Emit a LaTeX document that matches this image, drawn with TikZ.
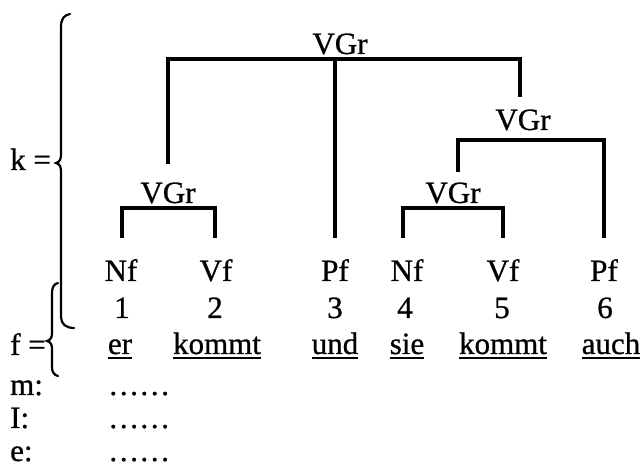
\documentclass[tikz,border=0pt]{standalone}
\usepackage{fontspec}
\setmainfont{Liberation Serif}[FakeBold=0.8]
\usetikzlibrary{calc}
\begin{document}
\begin{tikzpicture}[x=1pt,y=1pt,
  lbl/.style={inner sep=0pt,anchor=base,font=\fontsize{31}{37}\selectfont},
  lft/.style={lbl,anchor=base west},
  branch/.style={line width=3.2pt,line cap=butt,line join=miter},
  brace/.style={line width=2.2pt,line cap=round},
  uline/.style={line width=1.9pt}]
\useasboundingbox (0,0) rectangle (643,471);

% group labels of the tree
\node[lbl] (vt) at (340,417) {VGr};
\node[lbl] (vr) at (523,341) {VGr};
\node[lbl] (vi) at (453,268) {VGr};
\node[lbl] (vl) at (168,268) {VGr};

% leaf categories
\node[lbl] (c1) at (121,190) {Nf};
\node[lbl] (c2) at (216,190) {Vf};
\node[lbl] (c3) at (335,190) {Pf};
\node[lbl] (c4) at (407,190) {Nf};
\node[lbl] (c5) at (503,190) {Vf};
\node[lbl] (c6) at (604,190) {Pf};

% positions
\node[lbl] (n1) at (122,153) {1};
\node[lbl] (n2) at (215,153) {2};
\node[lbl] (n3) at (335,153) {3};
\node[lbl] (n4) at (405,153) {4};
\node[lbl] (n5) at (502,153) {5};
\node[lbl] (n6) at (605,153) {6};

% words
\node[lbl] (w1) at (120,117) {er};
\node[lbl] (w2) at (217,117) {kommt};
\node[lbl] (w3) at (335,117) {und};
\node[lbl] (w4) at (407,117) {sie};
\node[lbl] (w5) at (503,117) {kommt};
\node[lbl] (w6) at (611,117) {auch};
\foreach \w in {w1,w2,w3,w4,w5,w6}
  \draw[uline] ($(\w.base west)+(0,-4)$) -- ($(\w.base east)+(0,-4)$);

% left column
\node[lft] (k) at (10,301) {k =};
\node[lft] (f) at (10,116) {f =};
\node[lft] (m) at (10,76) {m:};
\node[lft] (i) at (10,43) {I:};
\node[lft] (e) at (10,10) {e:};
\node[lft] (dm) at (108,76) {……};
\node[lft] (di) at (108,43) {……};
\node[lft] (de) at (108,10) {……};

% bar heights and the upper ends of the branches
\coordinate (vt-bar) at ($(vt.base)+(0,-5)$);
\coordinate (vr-bar) at ($(vr.base)+(0,-10)$);
\coordinate (vi-bar) at ($(vi.base)+(0,-5)$);
\coordinate (vl-bar) at ($(vl.base)+(0,-5)$);
\coordinate (vl-top) at ($(vl.base)+(0,39)$);
\coordinate (vr-top) at ($(vr.base)+(-3,33)$);
\coordinate (vi-top) at ($(vi.base)+(5,31)$);
\coordinate (c1-top) at ($(c1.base)+(1,43)$);
\coordinate (c2-top) at ($(c2.base)+(-1,43)$);
\coordinate (c3-top) at ($(c3.base)+(0,43)$);
\coordinate (c4-top) at ($(c4.base)+(-4,43)$);
\coordinate (c5-top) at ($(c5.base)+(0,43)$);
\coordinate (c6-top) at ($(c6.base)+(0,43)$);

% branches
\draw[branch] (vl-top) |- (vt-bar -| vr-top) -- (vr-top);
\draw[branch] (vt-bar -| c3-top) -- (c3-top);
\draw[branch] (vi-top) |- (vr-bar -| c6-top) -- (c6-top);
\draw[branch] (c4-top) |- (vi-bar -| c5-top) -- (c5-top);
\draw[branch] (c1-top) |- (vl-bar -| c2-top) -- (c2-top);

% braces
\draw[brace] (70,457) .. controls (64,456) and (61,452) .. (61,444)
  -- (61,317) .. controls (61,312) and (60,309) .. (56,308)
  .. controls (60,307) and (61,304) .. (61,299)
  -- (61,154) .. controls (61,147) and (66,143) .. (74,143);
\draw[brace] (58,188) .. controls (54,187) and (52,184) .. (52,178)
  -- (52,138) .. controls (52,134) and (51,131) .. (47,130)
  .. controls (51,129) and (52,126) .. (52,122)
  -- (52,104) .. controls (52,99) and (54,96) .. (58,95);
\end{tikzpicture}
\end{document}
